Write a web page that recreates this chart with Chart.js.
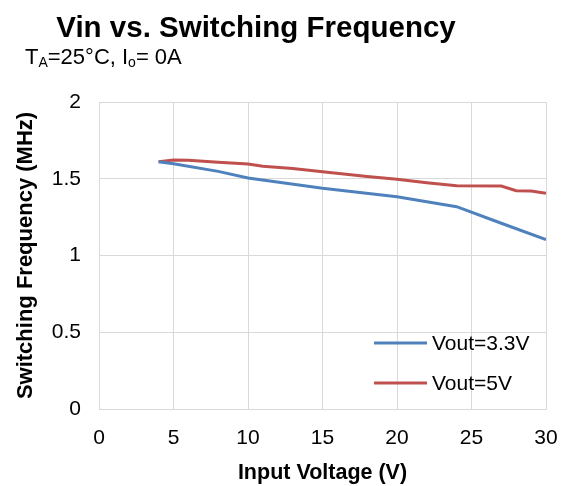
<!DOCTYPE html>
<html>
<head>
<meta charset="utf-8">
<script src="https://cdn.jsdelivr.net/npm/chart.js@4/dist/chart.umd.min.js"></script>
<style>
  html, body { margin: 0; padding: 0; background: #fff; }
  #wrap { width: 566px; height: 486px; }
</style>
</head>
<body>
<div id="wrap"><canvas id="chart" width="566" height="486"></canvas></div>
<script>
// values
const vin33 = [4, 5, 8, 10, 15, 20, 24, 27, 30];
const freq33 = [1.611, 1.598, 1.548, 1.505, 1.438, 1.383, 1.318, 1.21, 1.103];
const vin5 = [4, 5, 6, 8, 10, 11, 13, 15, 18, 20, 22, 24, 27, 28, 29, 30];
const freq5 = [1.611, 1.622, 1.621, 1.607, 1.596, 1.581, 1.567, 1.546, 1.515, 1.497, 1.474, 1.455, 1.452, 1.422, 1.42, 1.405];
const seriesNames = ['Vout=3.3V', 'Vout=5V'];
const seriesColors = ['#4F81BD', '#C0504D'];
const xTicks = [0, 5, 10, 15, 20, 25, 30];
const yTicks = [0, 0.5, 1, 1.5, 2];

const FONT = 'Arial, "Liberation Sans", sans-serif';

function toPoints(xs, ys) {
  return xs.map((x, i) => ({ x: x, y: ys[i] }));
}

// title + subtitle with subscripts, and the legend inside the plot
const decorations = {
  id: 'decorations',
  afterDraw(chart) {
    const ctx = chart.ctx;
    ctx.save();
    ctx.fillStyle = '#000';
    ctx.textBaseline = 'alphabetic';

    ctx.font = 'bold 29.5px ' + FONT;
    ctx.textAlign = 'center';
    ctx.fillText('Vin vs. Switching Frequency', 256, 37);

    // T_A=25°C, I_o= 0A
    ctx.textAlign = 'left';
    let x = 25;
    const base = 64;
    const parts = [
      ['T', 22, 0], ['A', 14, 3], ['=25°C, I', 22, 0], ['o', 14, 3], ['= 0A', 22, 0]
    ];
    parts.forEach(p => {
      ctx.font = p[1] + 'px ' + FONT;
      ctx.fillText(p[0], x, base + p[2]);
      x += ctx.measureText(p[0]).width;
    });

    // legend
    const rows = [343, 383];
    chart.data.datasets.forEach((ds, i) => {
      ctx.strokeStyle = ds.borderColor;
      ctx.lineWidth = 3;
      ctx.beginPath();
      ctx.moveTo(374, rows[i]);
      ctx.lineTo(427, rows[i]);
      ctx.stroke();
      ctx.font = '21px ' + FONT;
      ctx.textBaseline = 'middle';
      ctx.fillText(ds.label, 432, rows[i] + 1);
    });
    ctx.restore();
  }
};

new Chart(document.getElementById('chart'), {
  type: 'line',
  data: {
    datasets: [
      {
        label: seriesNames[0],
        data: toPoints(vin33, freq33),
        borderColor: seriesColors[0],
        backgroundColor: seriesColors[0],
        borderWidth: 3,
        pointRadius: 0,
        tension: 0,
      },
      {
        label: seriesNames[1],
        data: toPoints(vin5, freq5),
        borderColor: seriesColors[1],
        backgroundColor: seriesColors[1],
        borderWidth: 3,
        pointRadius: 0,
        tension: 0,
      },
    ],
  },
  options: {
    responsive: false,
    animation: false,
    layout: { padding: { top: 102, right: 20, left: 0, bottom: 0 } },
    plugins: {
      legend: { display: false },
      title: { display: false },
      tooltip: { enabled: false },
    },
    scales: {
      x: {
        type: 'linear',
        min: 0,
        max: 30,
        afterBuildTicks: (s) => { s.ticks = xTicks.map(v => ({ value: v })); },
        afterFit: (s) => { s.height = 77; s.paddingRight = 0; },
        grid: { color: '#d9d9d9', lineWidth: 1, drawTicks: false },
        border: { color: '#d9d9d9' },
        ticks: { color: '#000', font: { family: FONT, size: 21 }, padding: 17, maxRotation: 0 },
        title: {
          display: true,
          text: 'Input Voltage (V)',
          color: '#000',
          font: { family: FONT, size: 21.5, weight: 'bold' },
          padding: { top: 11, bottom: 0 },
        },
      },
      y: {
        min: 0,
        max: 2,
        afterBuildTicks: (s) => { s.ticks = yTicks.map(v => ({ value: v })); },
        afterFit: (s) => { s.width = 99; },
        grid: { color: '#d9d9d9', lineWidth: 1, drawTicks: false },
        border: { color: '#d9d9d9' },
        ticks: {
          color: '#000',
          font: { family: FONT, size: 21 },
          padding: 18,
          callback: (v) => String(v),
        },
        title: {
          display: true,
          text: 'Switching Frequency (MHz)',
          color: '#000',
          font: { family: FONT, size: 22, weight: 'bold' },
          padding: { top: 13, bottom: 0 },
        },
      },
    },
  },
  plugins: [decorations],
});
</script>
</body>
</html>
